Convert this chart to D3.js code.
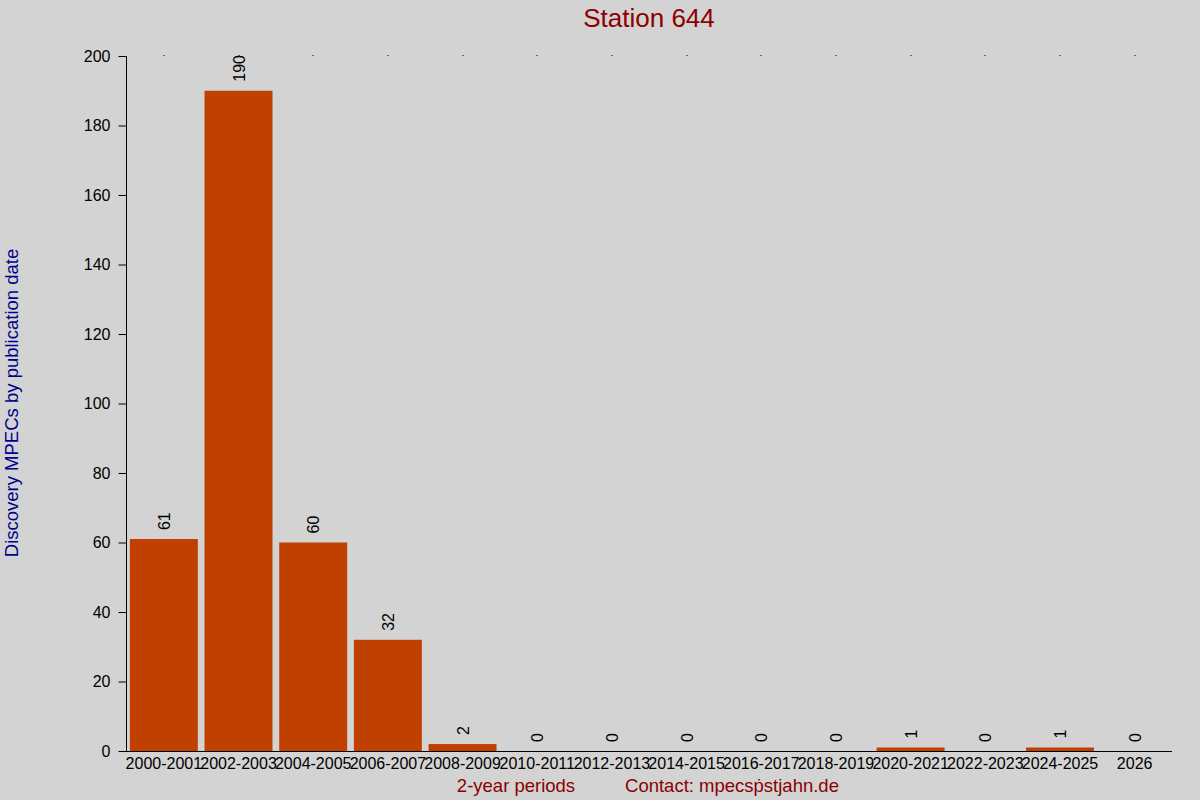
<!DOCTYPE html>
<html>
<head>
<meta charset="utf-8">
<script src="https://cdn.jsdelivr.net/npm/d3@7"></script>
<style>
  body { margin: 0; background: #d3d3d3; }
  svg { display: block; font-family: "Liberation Sans", Arial, sans-serif; }
</style>
</head>
<body>
<div id="chart"></div>
<script>
// DATA
const periods = [`2000-2001`, `2002-2003`, `2004-2005`, `2006-2007`, `2008-2009`, `2010-2011`, `2012-2013`,
  `2014-2015`, `2016-2017`, `2018-2019`, `2020-2021`, `2022-2023`, `2024-2025`, `2026`];
const counts = [61, 190, 60, 32, 2, 0, 0, 0, 0, 0, 1, 0, 1, 0];
const yTicks = [0, 20, 40, 60, 80, 100, 120, 140, 160, 180, 200];

const W = 1200, H = 800;
const margin = { top: 56, right: 28, bottom: 49, left: 126 };
const FONT = `"Liberation Sans", Arial, sans-serif`;

const svg = d3.select(`#chart`).append(`svg`)
  .attr(`width`, W)
  .attr(`height`, H);

svg.append(`rect`).attr(`width`, W).attr(`height`, H).attr(`fill`, `#d3d3d3`);

const x = d3.scaleBand()
  .domain(periods)
  .range([margin.left + 0.5, W - margin.right])
  .paddingInner(0.09)
  .paddingOuter(0.045);

const y = d3.scaleLinear()
  .domain([0, 200])
  .range([H - margin.bottom, margin.top]);

const data = periods.map((p, i) => ({ period: p, value: counts[i] }));

// bars
svg.selectAll(`.bar`)
  .data(data.filter(d => d.value > 0))
  .join(`rect`)
  .attr(`class`, `bar`)
  .attr(`x`, d => x(d.period))
  .attr(`y`, d => y(d.value))
  .attr(`width`, x.bandwidth())
  .attr(`height`, d => y(0) - y(d.value))
  .attr(`fill`, `#c04000`);

// value labels
const center = d => x(d.period) + x.bandwidth() / 2;
svg.selectAll(`.val`)
  .data(data)
  .join(`text`)
  .attr(`class`, `val`)
  .attr(`transform`, d => `translate(${center(d) + 6}, ${y(d.value) - 9}) rotate(-90)`)
  .attr(`font-size`, 16)
  .attr(`fill`, `#000`)
  .text(d => d.value);

// top dots
svg.selectAll(`.dot`)
  .data(data)
  .join(`rect`)
  .attr(`class`, `dot`)
  .attr(`x`, d => Math.round(center(d)) - 0.5)
  .attr(`y`, margin.top - 1)
  .attr(`width`, 1)
  .attr(`height`, 1)
  .attr(`fill`, `#000`);

// y axis
const yAxis = d3.axisLeft(y).tickValues(yTicks).tickSize(8).tickPadding(8);
svg.append(`g`)
  .attr(`transform`, `translate(${margin.left + 0.5}, 0)`)
  .call(yAxis)
  .call(g => g.select(`.domain`).attr(`d`, `M0,${y(200)}V${y(0)}`))
  .call(g => g.selectAll(`text`).attr(`font-size`, 16).attr(`font-family`, FONT).attr(`fill`, `#000`));

// x axis
const xAxis = d3.axisBottom(x).tickSize(0).tickPadding(6);
svg.append(`g`)
  .attr(`transform`, `translate(0, ${y(0) + 0.5})`)
  .call(xAxis)
  .call(g => g.select(`.domain`).attr(`d`, `M${margin.left},0H${W - margin.right}`))
  .call(g => g.selectAll(`text`).attr(`font-size`, 16).attr(`font-family`, FONT).attr(`fill`, `#000`));

// titles
svg.append(`text`)
  .attr(`x`, 649).attr(`y`, 27)
  .attr(`text-anchor`, `middle`)
  .attr(`font-size`, 26)
  .attr(`fill`, `#8b0000`)
  .text(`Station 644`);

svg.append(`text`)
  .attr(`x`, 516).attr(`y`, 792)
  .attr(`text-anchor`, `middle`)
  .attr(`font-size`, 18.5)
  .attr(`fill`, `#8b0000`)
  .text(`2-year periods`);

svg.append(`text`)
  .attr(`x`, 732).attr(`y`, 792)
  .attr(`text-anchor`, `middle`)
  .attr(`font-size`, 18.5)
  .attr(`fill`, `#8b0000`)
  .text(`Contact: mpecsṗstjahn.de`);

svg.append(`text`)
  .attr(`transform`, `translate(18, 403) rotate(-90)`)
  .attr(`text-anchor`, `middle`)
  .attr(`font-size`, 18.5)
  .attr(`fill`, `#00008b`)
  .text(`Discovery MPECs by publication date`);
</script>
</body>
</html>
